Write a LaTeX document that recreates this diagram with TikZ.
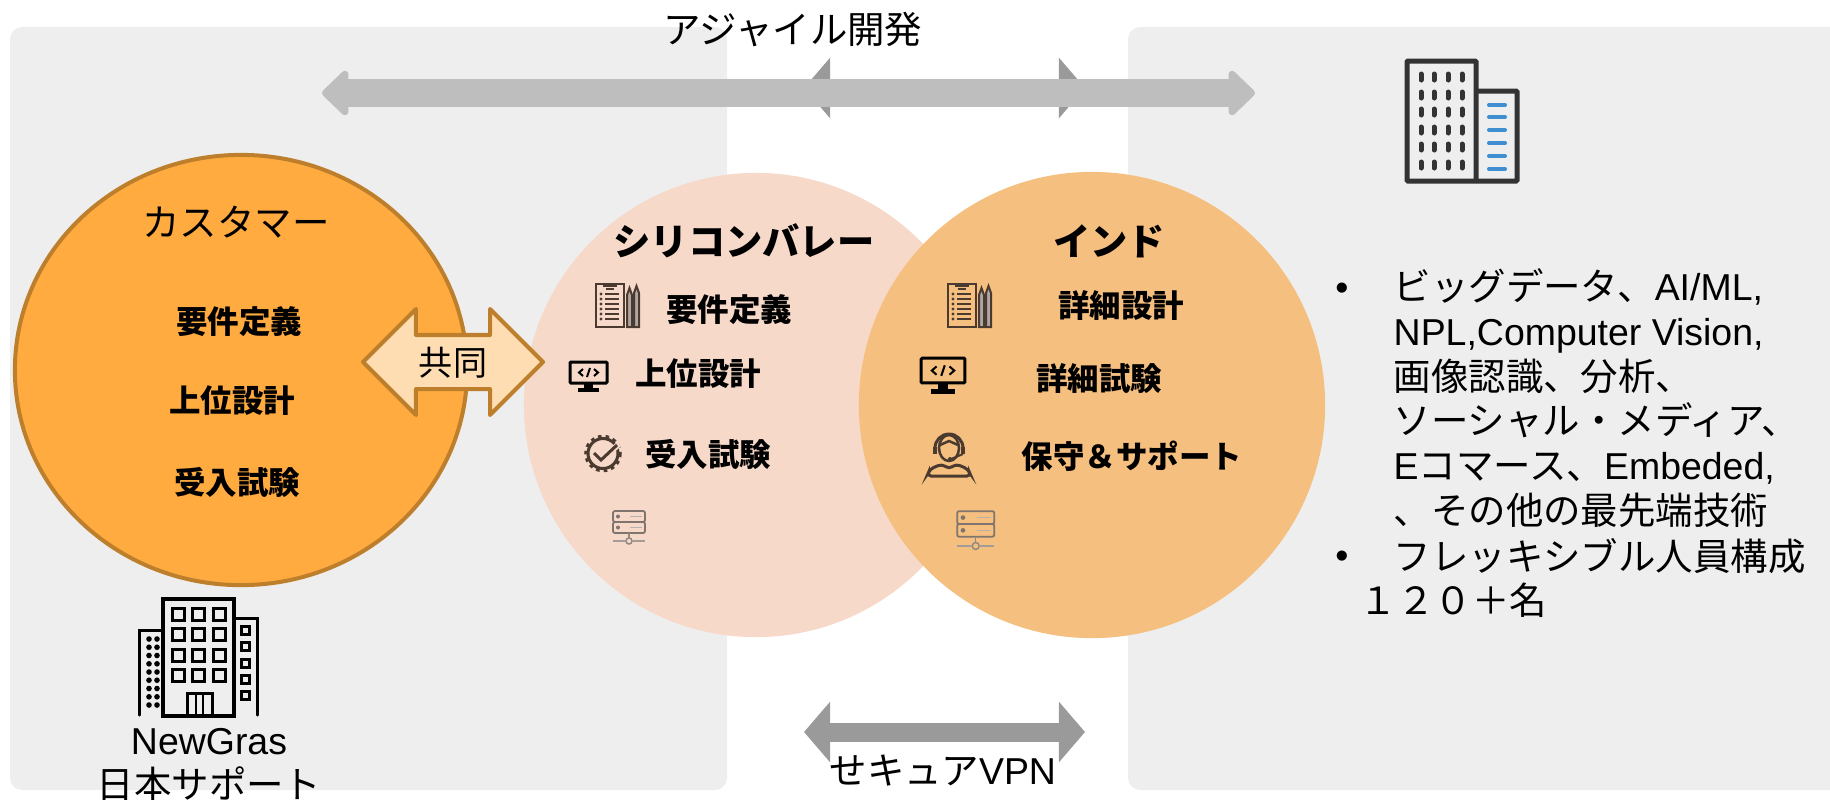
\documentclass[tikz,border=0pt]{standalone}
\usepackage{fontspec}
\setmainfont{Noto Sans CJK JP}
\newfontfamily\latinfont{Liberation Sans}
\usetikzlibrary{arrows.meta, shapes.arrows, shapes.geometric}

\definecolor{panelgray}{HTML}{EEEEEE}
\definecolor{barlight}{HTML}{BEBEBE}
\definecolor{bardark}{HTML}{9A9A9A}
\definecolor{custfill}{HTML}{FFAB40}
\definecolor{custline}{HTML}{BE7F2C}
\definecolor{collabfill}{HTML}{FFDDB3}
\definecolor{siliconfill}{HTML}{F7D9CA}
\definecolor{indiafill}{HTML}{F5BF80}
\definecolor{iconbrown}{HTML}{4A3A30}
\definecolor{iconblue}{HTML}{3D8FD1}

\tikzset{
    panel/.style={fill=panelgray, rounded corners=0.12cm},
    site/.style={circle, minimum size=#1, inner sep=0pt},
    title/.style={font=\fontsize{10.65pt}{12.7pt}\selectfont},
    job/.style={font=\fontsize{8.95pt}{10pt}\selectfont\bfseries},
    head/.style={font=\fontsize{10.6pt}{12pt}\selectfont\bfseries},
    checklist/.pic={
        \draw[iconbrown, line width=0.02cm] (1,1) rectangle (29,44);
        \draw[iconbrown, line width=0.02cm] (8,3) -- (22,3) (11,6) -- (19,6);
        \foreach \yy in {11,16,21,26,31,36} {
            \fill[iconbrown] (6,\yy) circle (1.6);
            \draw[iconbrown, line width=0.015cm] (10,\yy) -- (24,\yy);
        }
        \draw[iconbrown, line width=0.02cm, fill=iconbrown!45!white] (32,44) -- (32,12) -- (34.5,5) -- (37,12) -- (37,44) -- cycle;
        \draw[iconbrown, line width=0.02cm, fill=iconbrown!45!white] (39,44) -- (39,10) -- (41.5,3) -- (44,10) -- (44,44) -- cycle;
    },
    monitor/.pic={
        \draw[black, line width=0.03cm, rounded corners=0.01cm] (1,1) rectangle (38,22);
        \fill[black] (15,22) rectangle (24,28);
        \fill[black] (9,27) rectangle (30,31);
        \draw[black, line width=0.02cm] (14,8) -- (10,11.5) -- (14,15) (25,8) -- (29,11.5) -- (25,15) (21,7) -- (18,16);
    },
    gearcheck/.pic={
        \draw[iconbrown, line width=0.03cm] (19,18.5) circle (15);
        \draw[iconbrown, line width=0.035cm, dash pattern=on 0.035cm off 0.04cm] (19,18.5) circle (17);
        \draw[siliconfill, line width=0.06cm] (10,18) -- (17,25) -- (35,9);
        \draw[iconbrown, line width=0.03cm] (10,18) -- (17,25) -- (33,10);
    },
    agent/.pic={
        \draw[iconbrown, line width=0.025cm] (23,16) ellipse (10 and 13);
        \draw[iconbrown, line width=0.03cm] (9,16) arc (180:360:14);
        \draw[iconbrown, line width=0.035cm] (9,15) -- (9,22) (37,15) -- (37,22);
        \draw[iconbrown, line width=0.025cm] (14,13) -- (23,9) -- (32,13);
        \draw[iconbrown, line width=0.02cm] (37,22) -- (25,27);
        \fill[iconbrown] (24,27) circle (2);
        \draw[iconbrown, line width=0.03cm, rounded corners=0.04cm] (1,44) -- (4,37) -- (16,32) -- (23,37) -- (30,32) -- (42,37) -- (45,44) -- cycle;
    },
    serverrack/.pic={
        \draw[iconbrown!70!white, line width=0.018cm, rounded corners=0.02cm] (1,1) rectangle (33,12);
        \draw[iconbrown!70!white, line width=0.018cm, rounded corners=0.02cm] (1,12) rectangle (33,23);
        \foreach \yy in {6.5,17.5} {
            \fill[iconbrown!70!white] (6,\yy) circle (2);
            \draw[iconbrown!40!white, line width=0.015cm] (18,\yy) -- (30,\yy);
        }
        \draw[iconbrown!60!white, line width=0.015cm] (17,23) -- (17,28);
        \draw[iconbrown!60!white, line width=0.015cm] (17,31) circle (3);
        \draw[iconbrown!50!white, line width=0.015cm] (1,31) -- (14,31) (20,31) -- (33,31);
    },
}

\begin{document}
\begin{tikzpicture}[x=0.01cm, y=-0.01cm]
    \useasboundingbox (0,0) rectangle (1830,799);
    % panels
    \fill[panel] (10,27) rectangle (727,790);
    \fill[panel] (1128,27) rectangle (1860,790);

    % bars
    \coordinate (vpnTopL) at (804,88);
    \coordinate (vpnTopR) at (1085,88);
    \coordinate (vpnL) at (804,732);
    \coordinate (vpnR) at (1085,732);
    \coordinate (agileL) at (322,93);
    \coordinate (agileR) at (1255,93);
    \draw[bardark, line width=0.19cm, {Triangle[length=0.26cm, width=0.59cm]}-{Triangle[length=0.26cm, width=0.59cm]}] (vpnTopL) -- (vpnTopR);
    \draw[bardark, line width=0.19cm, {Triangle[length=0.26cm, width=0.59cm]}-{Triangle[length=0.26cm, width=0.59cm]}] (vpnL) -- (vpnR);
    \draw[barlight, line width=0.28cm, {Triangle[round, length=0.28cm, width=0.52cm]}-{Triangle[round, length=0.28cm, width=0.52cm]}] (agileL) -- (agileR);
    \node[title] (agile) at (793,30) {アジャイル開発};
    \node[title] (vpn) at (943,771) {せキュア{\latinfont VPN}};

    % circles
    \node[ellipse, minimum width=4.52cm, minimum height=4.30cm, inner sep=0pt, fill=custfill, draw=custline, line width=0.04cm] (customer) at (241,370) {};
    \node[site=4.64cm, fill=siliconfill] (silicon) at (756,405) {};
    \node[site=4.66cm, fill=indiafill] (india) at (1092,405) {};

    % collaboration arrow
    \node[double arrow, draw=custline, fill=collabfill, line width=0.04cm, line join=round,
        minimum height=1.80cm, minimum width=1.02cm, inner xsep=0pt, inner ysep=0.08cm,
        text height=0.30cm, text depth=0.04cm, double arrow head extend=0.26cm,
        font=\fontsize{9.7pt}{10pt}\selectfont] (collab) at (453,362) {共同};

    % customer
    \node[title] (custname) at (236,222) {カスタマー};
    \node[job] (custa) at (239,322) {要件定義};
    \node[job] (custb) at (232,401) {上位設計};
    \node[job] (custc) at (237,482) {受入試験};

    % silicon valley
    \node[head] (siliconname) at (744,241) {シリコンバレー};
    \node[job] (sila) at (729,310) {要件定義};
    \node[job] (silb) at (698,374) {上位設計};
    \node[job] (silc) at (708,454) {受入試験};
    \pic at (595,283) {checklist};
    \pic at (569,361) {monitor};
    \pic at (584,435) {gearcheck};
    \pic at (612,510) {serverrack};

    % india
    \node[head] (indianame) at (1109,241) {インド};
    \node[job] (inda) at (1121,305) {詳細設計};
    \node[job] (indb) at (1099,379) {詳細試験};
    \node[job] (indc) at (1132,456) {保守＆サポート};
    \pic at (947,283) {checklist};
    \pic[scale=1.18] at (920,357) {monitor};
    \pic at (926,432) {agent};
    \pic[scale=1.16] at (956,510) {serverrack};

    % tower, right
    \draw[line width=0.05cm, draw=black!80, rounded corners=0.01cm] (1476,91) -- (1517,91) -- (1517,181) -- (1476,181);
    \draw[line width=0.05cm, draw=black!80, rounded corners=0.01cm] (1407,61) rectangle (1476,181);
    \foreach \xx in {1421,1434,1448,1462} {
        \foreach \yy in {77,95,112,130,147,165} {
            \draw[black!80, line width=0.05cm, line cap=round] (\xx,\yy-3) -- (\xx,\yy+3);
        }
    }
    \foreach \yy in {105,117,130,143,156,169} {
        \draw[iconblue, line width=0.04cm, line cap=round] (1489,\yy) -- (1505,\yy);
    }

    % building, left
    \draw[line width=0.035cm] (163,599) rectangle (234,716);
    \draw[line width=0.03cm, line cap=round] (139,715) -- (139,630) -- (163,630);
    \draw[line width=0.03cm, line cap=round] (234,618) -- (257,618) -- (257,715);
    \foreach \xx in {178,198,219} {
        \foreach \yy in {614,634,655,675} {
            \draw[line width=0.03cm] (\xx-6,\yy-6) rectangle (\xx+6,\yy+6);
        }
    }
    \foreach \yy in {630,646,663,679,695} {
        \draw[line width=0.03cm] (245-4,\yy-4) rectangle (245+4,\yy+4);
    }
    \foreach \yy in {639,647.2,655.5,663.8,672,680.2,688.5,696.8,705} {
        \fill (149,\yy) circle (2.8);
        \fill (157,\yy) circle (2.8);
    }
    \draw[line width=0.03cm] (187,716) -- (187,693) -- (212,693) -- (212,716);
    \draw[line width=0.025cm] (196,693) -- (196,716) (203,693) -- (203,716);

    \node[title, align=center] (newgras) at (209,765) {{\latinfont NewGras}\\日本サポート};

    % right text
    \node[title, anchor=west] (bulleta) at (1323,292) {\latinfont •};
    \node[title, anchor=west] (bulletb) at (1323,560) {\latinfont •};
    \node[title, anchor=west, align=left, inner sep=0pt] (skills) at (1393,398) {
        ビッグデータ、{\latinfont AI/ML,}\\
        {\latinfont NPL,Computer Vision,}\\
        画像認識、分析、\\
        ソーシャル・メディア、\\
        {\latinfont E}コマース、{\latinfont Embeded,}\\
        、その他の最先端技術};
    \node[title, anchor=west, align=left, inner sep=0pt] (staff) at (1393,578) {
        フレッキシブル人員構成\\
        \hspace*{-9.6pt}１２０＋名};
\end{tikzpicture}
\end{document}
